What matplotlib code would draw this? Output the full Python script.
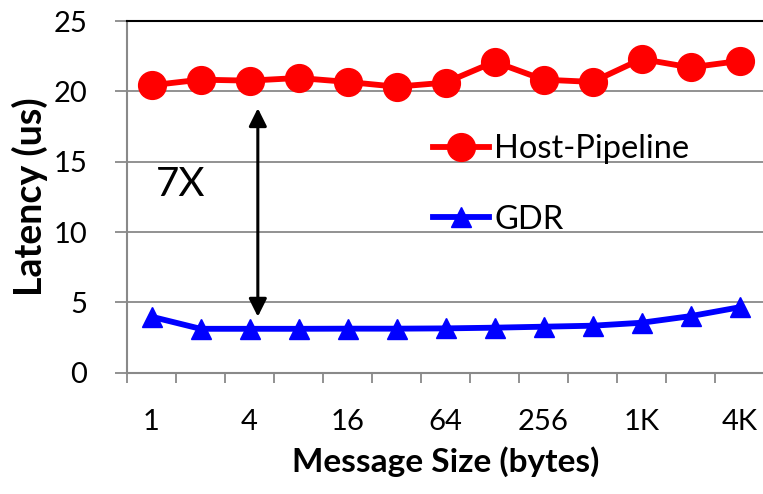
import matplotlib
matplotlib.use("Agg")
import matplotlib.pyplot as plt
from matplotlib.patches import FancyArrowPatch

plt.rcParams['font.family'] = ['Lato', 'DejaVu Sans']

sizes = ["1", "2", "4", "8", "16", "32", "64", "128", "256", "512", "1K", "2K", "4K"]
host_pipeline = [20.43, 20.83, 20.76, 20.95, 20.67, 20.33, 20.62, 22.1, 20.83, 20.67, 22.3, 21.7, 22.16]
gdr = [3.98, 3.12, 3.12, 3.12, 3.13, 3.13, 3.15, 3.2, 3.27, 3.34, 3.55, 4.02, 4.65]
y_ticks = [0, 5, 10, 15, 20, 25]

W, H = 763, 494
fig = plt.figure(figsize=(W / 100, H / 100), dpi=100)
ax = fig.add_axes([127 / W, (H - 372.7) / H, (764 - 127) / W, (372.7 - 21) / H])

x = list(range(len(sizes)))
ax.plot(x, host_pipeline, color="#FF0000", lw=4.2, marker="o", ms=20,
        label="Host-Pipeline", zorder=3, clip_on=False)
ax.plot(x, gdr, color="#0000FF", lw=4.2, marker="^", ms=14.5,
        label="GDR", zorder=3, clip_on=False)

grid_c = "#898989"
ax.set_xlim(-0.5, len(sizes) - 0.5)
ax.set_ylim(0, 25)
ax.set_yticks(y_ticks)
ax.yaxis.grid(True, color=grid_c, lw=1.3)
ax.set_axisbelow(True)

ax.set_xticks(x[::2])
ax.set_xticklabels(sizes[::2])
ax.set_xticks([i - 0.5 for i in range(len(sizes) + 1)], minor=True)
ax.tick_params(axis="x", which="major", length=0, pad=26, labelsize=21)
ax.tick_params(axis="x", which="minor", length=7.5, width=1.3, color=grid_c, direction="out")
ax.tick_params(axis="y", which="major", length=8.6, width=1.3, color=grid_c, pad=20, labelsize=21)

for s in ("left", "bottom"):
    ax.spines[s].set_color(grid_c)
    ax.spines[s].set_linewidth(1.5)
ax.spines["top"].set_color("black")
ax.spines["top"].set_linewidth(1.5)
ax.spines["right"].set_visible(False)

ax.set_ylabel("Latency (us)", fontsize=27, fontweight="bold", labelpad=4)
ax.set_xlabel("Message Size (bytes)", fontsize=24, fontweight="bold", labelpad=8)

ax.text(0.08, 13.4, "7X", fontsize=29, ha="left", va="center")
arrow = FancyArrowPatch((2.17, 18.8), (2.17, 3.98), arrowstyle="<|-|>,head_length=10.8,head_width=5.4",
                        mutation_scale=1, color="black", lw=2.2, shrinkA=0, shrinkB=0, zorder=4)
ax.add_patch(arrow)

leg = ax.legend(loc="upper left", bbox_to_anchor=(433 / W, 1 - 134 / H), bbox_transform=fig.transFigure,
                frameon=False, fontsize=23.5, handlelength=1.72, handletextpad=0.16,
                labelspacing=1.25, borderpad=0, borderaxespad=0)

fig.savefig("out.png", dpi=100)
